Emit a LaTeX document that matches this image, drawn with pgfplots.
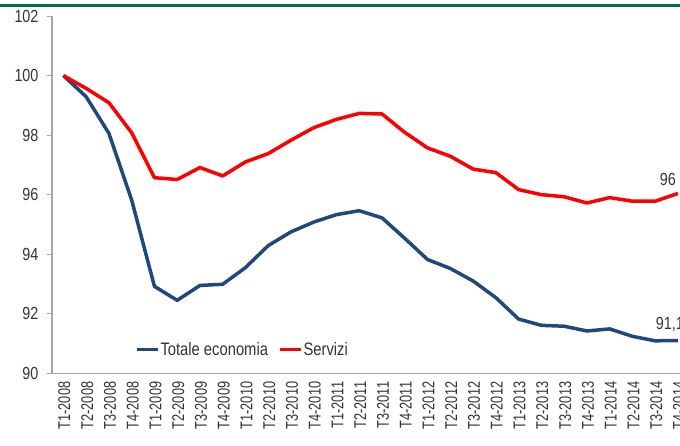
\documentclass[border=0pt]{standalone}
\usepackage{fontspec}
\setmainfont{Liberation Sans}[FakeStretch=0.82]
\newfontfamily\xfont{Liberation Sans}[FakeStretch=0.75]
\usepackage{pgfplots}
\usepackage{pgfplotstable}
\pgfplotsset{compat=1.18}
\definecolor{totblue}{HTML}{1F497D}
\definecolor{servred}{HTML}{FF0000}
\definecolor{axgray}{HTML}{A6A6A6}
\definecolor{topgreen}{HTML}{006F4E}
\definecolor{lbl}{HTML}{333333}

% indice T1-2008 = 100
\pgfplotstableread{
q  tot    serv
0  100.00 100.00
1  99.29  99.57
2  98.06  99.09
3  95.82  98.08
4  92.92  96.57
5  92.45  96.51
6  92.95  96.91
7  92.99  96.63
8  93.55  97.10
9  94.29  97.38
10 94.75  97.83
11 95.08  98.25
12 95.33  98.53
13 95.46  98.73
14 95.22  98.71
15 94.53  98.09
16 93.82  97.57
17 93.52  97.29
18 93.10  96.86
19 92.54  96.74
20 91.82  96.17
21 91.61  96.00
22 91.58  95.93
23 91.42  95.72
24 91.49  95.90
25 91.24  95.78
26 91.09  95.78
27 91.10  96.04
}\datatab

\begin{document}
\begin{tikzpicture}
\begin{axis}[
  scale only axis, width=637pt, height=357pt,
  xmin=-0.5, xmax=27.5, ymin=90, ymax=102,
  clip=false,
  axis lines*=left,
  axis line style={-, axgray, line width=1.3pt},
  tick align=outside,
  ytick={90,92,...,102},
  ytick style={axgray, line width=1pt},
  major tick length=5pt, minor tick length=5pt,
  xtick={0,...,27},
  xtick style={draw=none},
  minor xtick={-0.5,0.5,...,27.5},
  minor x tick style={axgray, line width=1pt},
  xticklabels={T1-2008,T2-2008,T3-2008,T4-2008,T1-2009,T2-2009,T3-2009,T4-2009,
    T1-2010,T2-2010,T3-2010,T4-2010,T1-2011,T2-2011,T3-2011,T4-2011,
    T1-2012,T2-2012,T3-2012,T4-2012,T1-2013,T2-2013,T3-2013,T4-2013,
    T1-2014,T2-2014,T3-2014,T4-2014},
  xticklabel style={rotate=90, anchor=east, yshift=-1pt, font=\xfont\fontsize{17}{20}\selectfont, text=lbl},
  yticklabel style={xshift=-5pt, font=\fontsize{17.5}{20}\selectfont, text=lbl},
  /pgf/number format/assume math mode=true,
  legend style={at={(0.298,0.067)}, anchor=center, draw=none, fill=none,
    legend columns=2, font=\fontsize{18}{20}\selectfont, text=lbl,
    nodes={inner xsep=1pt},
    /tikz/every even column/.append style={column sep=9pt}},
  legend image code/.code={\draw[#1] (0pt,0pt) -- (21pt,0pt);},
]
\addplot[totblue, line width=3.5pt, line join=round] table[x=q, y=tot] {\datatab};
\addplot[servred, line width=3.5pt, line join=round] table[x=q, y=serv] {\datatab};
\legend{Totale economia, Servizi}

\node[anchor=base, inner sep=0pt, xshift=-10pt, yshift=8pt, text=lbl,
  font=\fontsize{17.5}{20}\selectfont] at (axis cs:27,96.04) {96};
\node[anchor=base, inner sep=0pt, xshift=-8pt, yshift=11pt, text=lbl,
  font=\fontsize{17.5}{20}\selectfont] at (axis cs:27,91.10) {91,1};

\draw[topgreen, line width=3pt] (axis cs:-2.8,102.37) -- (axis cs:27.2,102.37);
\coordinate (bl) at (axis cs:-2.785,87.58);
\coordinate (tr) at (axis cs:27.09,102.54);
\end{axis}
\pgfresetboundingbox
\path[use as bounding box] (bl) rectangle (tr);
\end{tikzpicture}
\end{document}
